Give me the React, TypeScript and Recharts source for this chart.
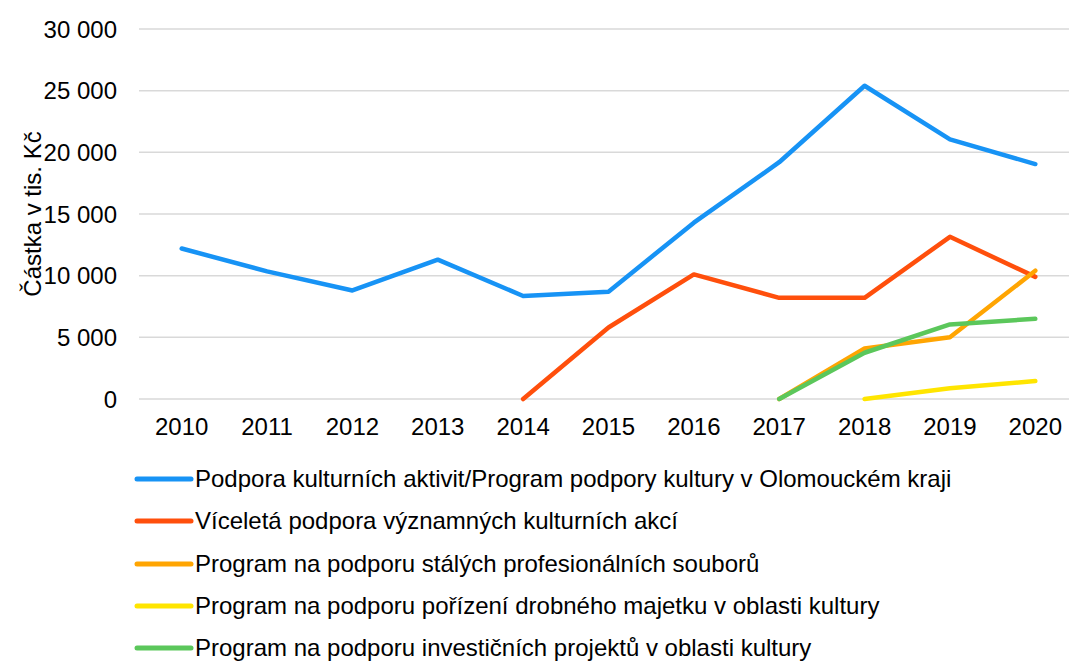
import { LineChart, Line, XAxis, YAxis, CartesianGrid, Legend } from 'recharts'

const years = ['2010', '2011', '2012', '2013', '2014', '2015', '2016', '2017', '2018', '2019', '2020']

const podporaAktivit = [12200, 10350, 8800, 11300, 8350, 8700, 14300, 19200, 25400, 21050, 19050]
const viceletaPodpora = [null, null, null, null, 0, 5800, 10100, 8200, 8200, 13150, 9900]
const staleSoubory = [null, null, null, null, null, null, null, 0, 4100, 5000, 10400]
const drobnyMajetek = [null, null, null, null, null, null, null, null, 0, 870, 1460]
const investicniProjekty = [null, null, null, null, null, null, null, 0, 3750, 6050, 6500]

const yTicks = [0, 5000, 10000, 15000, 20000, 25000, 30000]

const series = [
  { key: 'aktivity', name: 'Podpora kulturních aktivit/Program podpory kultury v Olomouckém kraji', color: '#1793F5' },
  { key: 'vicelete', name: 'Víceletá podpora významných kulturních akcí', color: '#FF4F0C' },
  { key: 'soubory', name: 'Program na podporu stálých profesionálních souborů', color: '#FFA502' },
  { key: 'majetek', name: 'Program na podporu pořízení drobného majetku v oblasti kultury', color: '#FFE500' },
  { key: 'investice', name: 'Program na podporu investičních projektů v oblasti kultury', color: '#5BC75B' },
]

const data = years.map((year, i) => ({
  year,
  aktivity: podporaAktivit[i],
  vicelete: viceletaPodpora[i],
  soubory: staleSoubory[i],
  majetek: drobnyMajetek[i],
  investice: investicniProjekty[i],
}))

const font = '"Liberation Sans", Arial, sans-serif'
const fontSize = 24

const formatThousands = (v: number) => String(v).replace(/\B(?=(\d{3})+(?!\d))/g, ' ')

function LegendRows() {
  return (
    <div style={{ fontFamily: font, fontSize, color: '#000' }}>
      {series.map((s) => (
        <div key={s.key} style={{ display: 'flex', alignItems: 'center', height: 42.3 }}>
          <svg width={61} height={10} style={{ display: 'block' }}>
            <line x1={3} y1={5} x2={57} y2={5} stroke={s.color} strokeWidth={5} strokeLinecap="round" />
          </svg>
          <span style={{ whiteSpace: 'nowrap' }}>{s.name}</span>
        </div>
      ))}
    </div>
  )
}

function AxisTitle(props: any) {
  const vb = props.viewBox || { x: 0, y: 0, width: 0, height: 0 }
  const cy = vb.y + vb.height / 2
  return (
    <text
      x={32}
      y={cy}
      transform={`rotate(-90 32 ${cy})`}
      textAnchor="middle"
      dominantBaseline="central"
      fontSize={fontSize}
      fontFamily={font}
      fill="#000"
    >
      Částka v tis. Kč
    </text>
  )
}

export default function App() {
  return (
    <div style={{ position: 'fixed', left: 0, top: 0, width: 1069, height: 661, overflow: 'hidden', background: '#fff' }}>
      <LineChart width={1100} height={661} data={data} margin={{ top: 29, right: 22, bottom: 232, left: 0 }}>
        <CartesianGrid vertical={false} stroke="#d9d9d9" strokeWidth={1.5} />
        <XAxis
          dataKey="year"
          height={30}
          padding={{ left: 42.7, right: 42.7 }}
          axisLine={false}
          tickLine={false}
          tickSize={0}
          tickMargin={19}
          interval={0}
          tick={{ fontSize, fill: '#000', fontFamily: font }}
        />
        <YAxis
          width={139}
          domain={[0, 30000]}
          ticks={yTicks}
          axisLine={false}
          tickLine={false}
          tickSize={0}
          tickMargin={22}
          tickFormatter={formatThousands}
          tick={{ fontSize, fill: '#000', fontFamily: font }}
          label={<AxisTitle />}
        />
        {series.map((s) => (
          <Line
            key={s.key}
            type="linear"
            dataKey={s.key}
            name={s.name}
            stroke={s.color}
            strokeWidth={4.5}
            strokeLinecap="round"
            strokeLinejoin="round"
            dot={false}
            activeDot={false}
            connectNulls={false}
            isAnimationActive={false}
          />
        ))}
        <Legend
          layout="vertical"
          align="center"
          verticalAlign="middle"
          wrapperStyle={{ left: 134, top: 458, width: 'auto' }}
          content={<LegendRows />}
        />
      </LineChart>
    </div>
  )
}
